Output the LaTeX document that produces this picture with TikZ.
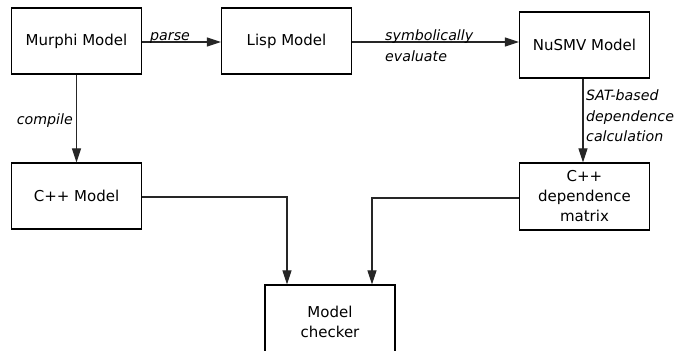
\documentclass[tikz,border=0pt]{standalone}
\usepackage{fontspec}
\setmainfont{DejaVu Sans}
\usetikzlibrary{arrows.meta}
\begin{document}
\begin{tikzpicture}[x=1pt,y=-1pt,
  box/.style={draw=black,line width=1.2pt,minimum width=130pt,minimum height=66pt,inner sep=0pt,align=center,font=\fontsize{15}{20}\selectfont},
  lbl/.style={inner sep=0pt,align=left,font=\fontsize{14.2}{20.5}\selectfont\itshape},
  arr/.style={draw=black!85,line width=1.1pt,-{Triangle[length=14pt,width=9pt]}}]
\useasboundingbox[fill=white] (0,0) rectangle (681,351);
\node[box] (murphi) at (76.5,41) {Murphi Model};
\node[box] (lisp) at (286.5,41) {Lisp Model};
\node[box] (nusmv) at (584.5,45) {NuSMV Model};
\node[box] (cpp) at (76.5,196) {C++ Model};
\node[box,minimum height=67pt] (depm) at (584.5,196.5) {C++\\dependence\\matrix};
\node[box,minimum height=74pt] (chk) at (330,322) {Model\\checker};
\draw[arr] (murphi.east |- 0,42) -- (lisp.west |- 0,42);
\node[lbl,anchor=base west] (parse) at (150,40) {parse};
\draw[arr] (lisp.east |- 0,42) -- (nusmv.west |- 0,42);
\node[lbl,anchor=north west] (sym) at (385,30) {symbolically\\evaluate};
\draw[arr] (murphi.south) -- (cpp.north);
\node[lbl,anchor=base east] (comp) at (73,124) {compile};
\draw[arr] (nusmv.south -| 583,0) -- (depm.north -| 583,0);
\node[lbl,anchor=north west] (sat) at (586,90) {SAT-based\\dependence\\calculation};
\draw[arr] (cpp.east |- 0,197) -| ([xshift=-43pt]chk.north);
\draw[arr] (depm.west |- 0,198) -| ([xshift=42pt]chk.north);
\end{tikzpicture}
\end{document}
